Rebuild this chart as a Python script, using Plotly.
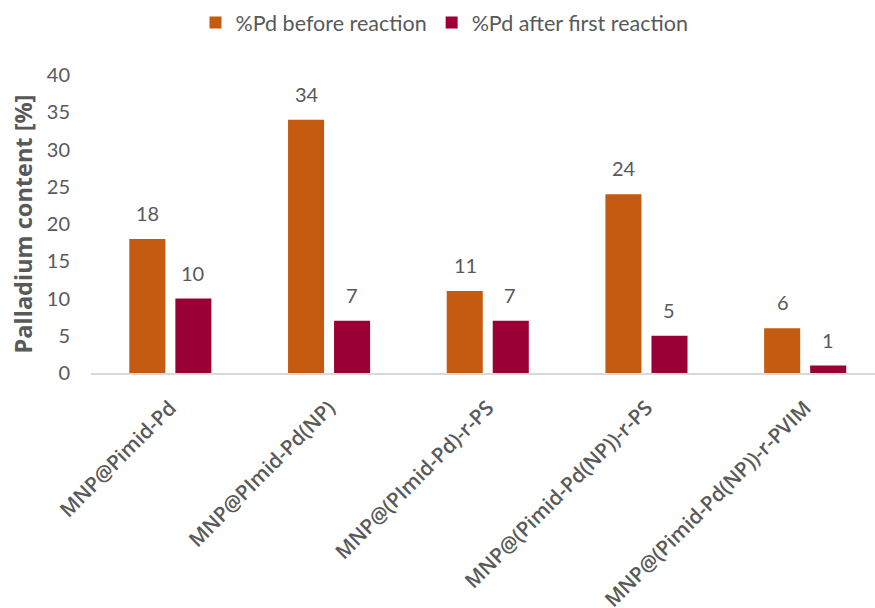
import plotly.graph_objects as go

categories = [
    "MNP@Pimid-Pd",
    "MNP@PImid-Pd(NP)",
    "MNP@(PImid-Pd)-r-PS",
    "MNP@(Pimid-Pd(NP))-r-PS",
    "MNP@(Pimid-Pd(NP))-r-PVIM",
]
before = [18, 34, 11, 24, 6]
after = [10, 7, 7, 5, 1]
series_names = ["%Pd before reaction", "%Pd after first reaction"]
colors = ["#C55A11", "#9A0036"]

num_font = "Lato, sans-serif"
grey = "#595959"

fig = go.Figure()
for name, vals, col in zip(series_names, [before, after], colors):
    fig.add_trace(go.Bar(
        x=categories, y=vals, name=name,
        marker=dict(color=col, line=dict(width=0)),
    ))

# value labels above each bar
label_font = dict(family=num_font, size=20, color=grey)
for shift, vals in zip([-22.5, 22.5], [before, after]):
    for i, v in enumerate(vals):
        fig.add_annotation(
            x=i, y=v, text=str(v), showarrow=False,
            xref="x", yref="y", xshift=shift, yshift=12,
            yanchor="bottom", font=label_font,
        )

fig.update_layout(
    width=875, height=608,
    margin=dict(l=91, r=0, t=75, b=235),
    paper_bgcolor="white", plot_bgcolor="white",
    barmode="group", bargap=0.42, bargroupgap=0.217,
    showlegend=True,
    legend=dict(
        orientation="h", xref="container", x=0.508, xanchor="center",
        yref="container", y=0.963, yanchor="middle",
        font=dict(family=num_font, size=21.5, color=grey),
        itemwidth=30, traceorder="normal",
    ),
    xaxis=dict(
        type="category", range=[-0.5, 4.44], automargin=False,
        showline=True, linecolor="#D9D9D9", linewidth=1.5,
        ticks="", tickangle=-45, ticklabelstandoff=13,
        tickfont=dict(family="Open Sans, sans-serif", size=20.5, color=grey, weight=600),
        showgrid=False, zeroline=False,
    ),
    yaxis=dict(
        range=[0, 40], dtick=5, showgrid=False, zeroline=False, showline=False,
        automargin=False,
        tickfont=dict(family=num_font, size=20, color=grey),
        ticklabelstandoff=20,
        title=dict(text="Palladium content [%]", standoff=7,
                   font=dict(family="Open Sans, sans-serif", size=23.5, color=grey, weight="bold")),
    ),
)

fig.write_html("out.html")
